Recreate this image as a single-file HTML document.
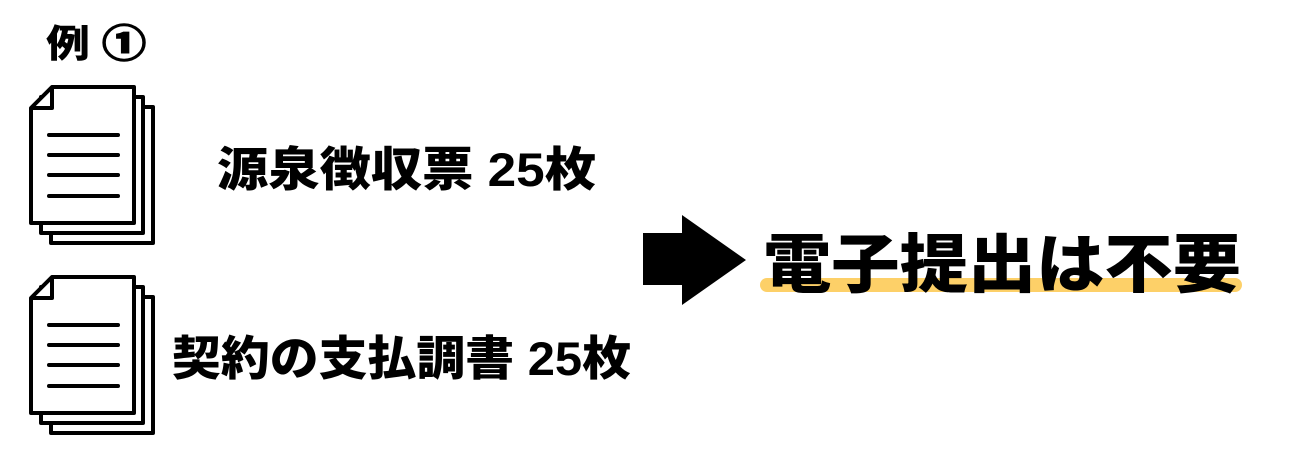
<!DOCTYPE html>
<html><head><meta charset="utf-8"><style>
html,body{margin:0;padding:0;background:#fff;width:1300px;height:450px;overflow:hidden}
svg text{font-family:"Liberation Sans","Noto Sans CJK JP",sans-serif;font-weight:900;fill:#000}
</style></head><body>
<svg width="1300" height="450" viewBox="0 0 1300 450" xmlns="http://www.w3.org/2000/svg">
<defs>
<g id="doc" fill="#fff" stroke="#000" stroke-width="4" stroke-linejoin="round">
  <rect x="51" y="107" width="102" height="136"/>
  <rect x="41" y="97" width="102" height="136"/>
  <path d="M52 87 H134 V223 H31 V108 Z"/>
  <path d="M52 87 V108 H31" fill="none"/>
  <g stroke-linecap="round">
    <line x1="49" y1="135" x2="118" y2="135"/>
    <line x1="49" y1="155" x2="118" y2="155"/>
    <line x1="49" y1="175" x2="118" y2="175"/>
    <line x1="49" y1="196" x2="118" y2="196"/>
  </g>
</g>
</defs>
<text x="46" y="57" font-size="38" textLength="100" lengthAdjust="spacingAndGlyphs">例 <tspan stroke="#000" stroke-width="1.5">①</tspan></text>
<use href="#doc"/>
<use href="#doc" y="190"/>
<text x="217" y="186" font-size="47" textLength="379" lengthAdjust="spacingAndGlyphs">源泉徴収票 25枚</text>
<text x="172" y="375" font-size="47" textLength="459" lengthAdjust="spacingAndGlyphs">契約の支払調書 25枚</text>
<polygon points="643,233 682,233 682,215 746,260 682,305 682,285 643,285" fill="#000"/>
<rect x="760" y="278" width="482" height="14" rx="7" fill="#fdd068"/>
<text x="763" y="287" font-size="64" textLength="478" lengthAdjust="spacingAndGlyphs">電子提出は不要</text>
</svg>
</body></html>
